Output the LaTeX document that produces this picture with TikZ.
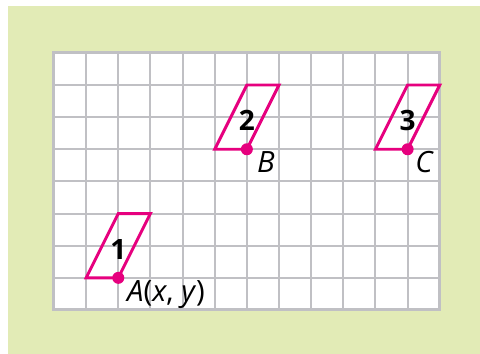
\documentclass[tikz,border=0pt]{standalone}
\usepackage{fontspec}
\setmainfont{Open Sans}
\definecolor{bggreen}{HTML}{E2EBB6}
\definecolor{gridgray}{HTML}{C0C0C4}
\definecolor{mag}{HTML}{E6007E}
\tikzset{
  gridline/.style={draw=gridgray, line width=1.5pt},
  gridframe/.style={draw=gridgray, line width=2.25pt},
  para/.style={draw=mag, line width=2.2pt, line join=miter},
  dot/.style={circle, fill=mag, inner sep=0pt, minimum size=9pt},
  num/.style={font=\fontsize{21}{24}\selectfont\bfseries, inner sep=0pt},
  lbl/.style={font=\fontsize{22}{25}\selectfont, inner sep=0pt, anchor=base west}
}
\begin{document}
\begin{tikzpicture}[x=0.75pt,y=0.75pt]
\useasboundingbox (0,0) rectangle (480,354);
\fill[white] (0,0) rectangle (480,354);
\fill[bggreen] (8,0) rectangle (480,348);
\begin{scope}[shift={(54,44)}, x=24.11pt, y=24.11pt]
  \fill[white] (0,0) rectangle (12,8);
  \foreach \i in {1,...,11} \draw[gridline] (\i,0) -- (\i,8);
  \foreach \j in {1,...,7} \draw[gridline] (0,\j) -- (12,\j);
  \draw[gridframe] (0,0) rectangle (12,8);
  % parallelogram 1
  \draw[para] (1,1) -- (2,1) -- (3,3) -- (2,3) -- cycle;
  \node[dot] (A) at (2,1) {};
  \node[num] (n1) at (2,1.88) {1};
  \node[lbl] (la) at (2.27,0.26) {\textit{A}(\textit{x}, \textit{y})};
  % parallelogram 2
  \draw[para] (5,5) -- (6,5) -- (7,7) -- (6,7) -- cycle;
  \node[dot] (B) at (6,5) {};
  \node[num] (n2) at (6,5.9) {2};
  \node[lbl] (lb) at (6.31,4.29) {\textit{B}};
  % parallelogram 3
  \draw[para] (10,5) -- (11,5) -- (12,7) -- (11,7) -- cycle;
  \node[dot] (C) at (11,5) {};
  \node[num] (n3) at (11,5.9) {3};
  \node[lbl] (lc) at (11.23,4.29) {\textit{C}};
\end{scope}
\end{tikzpicture}
\end{document}
